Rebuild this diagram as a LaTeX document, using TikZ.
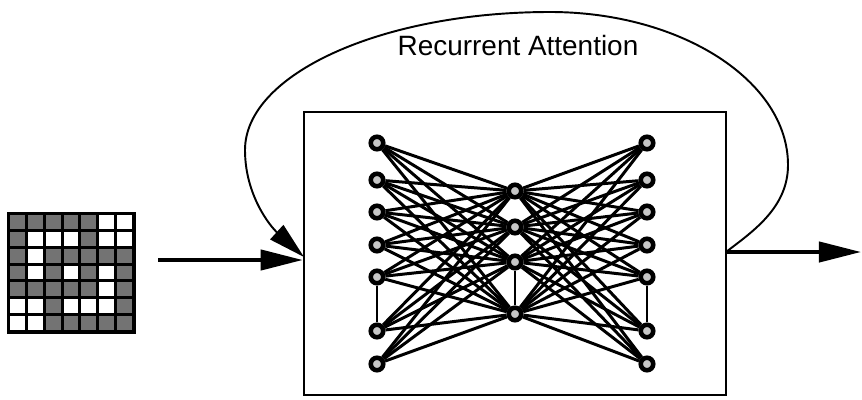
\documentclass[tikz,border=0pt]{standalone}
\usepackage{fontspec}
\setmainfont{Liberation Sans}
\usetikzlibrary{arrows.meta,backgrounds}
\begin{document}
\begin{tikzpicture}[x=0.02cm,y=-0.02cm,
  neuron/.style={circle,draw=black,line width=2.6pt,fill=gray!45,minimum size=0.25cm,inner sep=0pt},
  wire/.style={line width=1.7pt},
  dotsline/.style={line width=1.1pt},
  bigarrow/.style={line width=2.2pt,-{Triangle[length=24pt,width=11.5pt]}},
  loopline/.style={line width=1.1pt,-{Triangle[length=21pt,width=11pt]}},
  boxstyle/.style={draw=black,line width=1.5pt,minimum width=8.44cm,minimum height=5.66cm,inner sep=0pt}]
\useasboundingbox (0,0) rectangle (862,399);

% input grid
\fill[black] (7,212) rectangle (136,334);
\foreach \row [count=\r from 0] in {{1,1,1,1,1,0,0},{1,0,0,0,1,0,0},{1,0,1,1,1,1,1},{1,0,1,0,1,0,1},{1,1,1,1,1,0,1},{0,0,1,0,0,0,1},{0,0,1,1,1,1,1}}{
  \foreach \v [count=\c from 0] in \row {
    \pgfmathsetmacro\shade{\v==1 ? 55 : 0}
    \fill[black!\shade] ({10+\c*17.85},{215+\r*16.85}) rectangle ({10+(\c+1)*17.85-3},{215+(\r+1)*16.85-3});
  }
}

% network box
\node[boxstyle] (box) at (515,253.5) {};

% neurons
\foreach \y [count=\i] in {143,180,212,245,277,331,364}{
  \node[neuron] (L\i) at (377,\y) {};
  \node[neuron] (R\i) at (647,\y) {};
}
\foreach \y [count=\j] in {191,227,262,314}{
  \node[neuron] (H\j) at (515,\y) {};
}
\begin{scope}[on background layer]
  \foreach \i in {1,...,7}{
    \foreach \j in {1,...,4}{
      \draw[wire] (L\i) -- (H\j);
      \draw[wire] (H\j) -- (R\i);
    }
  }
  \draw[dotsline] (L5) -- (L6);
  \draw[dotsline] (H3) -- (H4);
  \draw[dotsline] (R5) -- (R6);
\end{scope}

% arrows
\coordinate (inS) at (158,260);
\coordinate (inE) at (inS -| box.west);
\draw[bigarrow] (inS) -- (inE);

\coordinate (outS) at (726,252);
\coordinate (outE) at (861,252);
\draw[bigarrow] (outS) -- (outE);

\coordinate (loopE) at (304,257);
\draw[loopline] (outS) .. controls (752,232) and (788,208) .. (788,165)
  .. controls (788,81) and (681,12) .. (550,12)
  .. controls (382,12) and (245,74) .. (245,150)
  .. controls (245,195) and (270,226) .. (loopE);

\node[anchor=base,font=\fontsize{15.9}{18}\selectfont] (lbl) at (518,55) {Recurrent Attention};
\end{tikzpicture}
\end{document}
